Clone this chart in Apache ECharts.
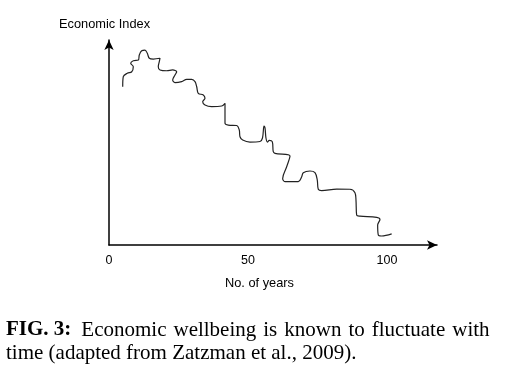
<!DOCTYPE html>
<html><head><meta charset="utf-8">
<script src="https://cdn.jsdelivr.net/npm/echarts@6/dist/echarts.min.js"></script>
<style>html,body{margin:0;padding:0;background:#fff}#c{width:510px;height:389px}</style>
</head><body><div id="c"></div>
<script>
// Years (x) and economic index (y)
const years = [4.93,5.14,6.58,8.17,8.74,7.81,8.74,10.54,10.90,11.76,12.95,13.78,14.50,15.94,18.35,18.09,17.73,18.35,20.76,22.91,24.35,23.74,22.91,23.74,26.15,27.95,29.75,30.94,31.55,32.12,33.92,34.53,33.71,34.53,36.94,40.54,41.73,41.73,41.73,42.91,45.94,46.87,47.12,48.09,50.72,54.32,55.22,55.76,56.12,56.47,57.01,57.66,58.74,59.10,59.71,65.11,63.92,62.48,63.31,68.09,69.32,69.89,72.30,74.10,74.93,75.29,76.51,81.91,86.69,88.49,88.85,89.10,90.29,96.29,97.48,96.65,96.87,98.09,101.69];
const index = [77.2,82.1,83.8,84.5,87.0,88.6,89.9,90.2,92.7,94.8,95.1,93.5,91.1,90.7,91.1,89.4,87.0,85.4,85.0,85.4,84.5,82.9,80.5,79.2,79.7,80.8,80.8,79.7,77.2,74.0,73.2,71.6,69.9,68.3,67.5,67.8,69.1,65.9,59.4,58.5,58.3,56.1,52.8,51.2,50.2,50.5,52.2,58.0,57.1,52.2,50.2,51.0,50.4,45.5,44.7,43.4,38.2,32.5,30.9,30.9,33.3,35.3,36.1,35.3,31.7,27.2,26.5,27.3,27.2,25.5,22.0,14.6,14.1,13.5,12.5,9.8,4.9,4.4,5.4];
const xTickLabels = [0, 50, 100];
const xAxisName = 'No. of years';
const yAxisName = 'Economic Index';
const captionLabel = 'FIG. 3:';
const captionLine1 = ['Economic', 'wellbeing', 'is', 'known', 'to', 'fluctuate', 'with'];
const captionLine2 = 'time (adapted from Zatzman et al., 2009).';

const chart = echarts.init(document.getElementById('c'), null, {renderer: 'canvas'});
const LH = 23;
chart.setOption({
  animation: false,
  backgroundColor: '#fff',
  grid: {left: 109, right: 73, top: 40, bottom: 144, containLabel: false},
  xAxis: {
    type: 'value', min: 0, max: 118, interval: 50,
    axisLine: {show: true, symbol: ['none', 'arrow'], symbolSize: [7, 10], lineStyle: {color: '#000', width: 1.5}},
    axisTick: {show: false}, splitLine: {show: false},
    axisLabel: {margin: 9, color: '#000', fontFamily: 'Liberation Sans', fontSize: 12.5,
      formatter: v => xTickLabels.includes(v) ? String(v) : ''}
  },
  yAxis: {
    type: 'value', min: 0, max: 100,
    axisLine: {show: true, symbol: ['none', 'arrow'], symbolSize: [7, 10], lineStyle: {color: '#000', width: 1.5}},
    axisTick: {show: false}, splitLine: {show: false}, axisLabel: {show: false}
  },
  series: [{
    type: 'line', data: years.map((x, i) => [x, index[i]]),
    smooth: 0.35, showSymbol: false,
    lineStyle: {color: '#222', width: 1.2}
  }],
  graphic: [
    {type: 'text', left: 59, top: 18, style: {text: yAxisName, fill: '#000', font: '12.8px "Liberation Sans"'}},
    {type: 'text', left: 225, top: 277, style: {text: xAxisName, fill: '#000', font: '12.8px "Liberation Sans"'}},
    {type: 'text', left: 6, top: 310, style: {
      text: '{b|' + captionLabel + '}{g| }' + captionLine1.join('{s| }') + '\n' + captionLine2,
      fill: '#000', font: '21px "Liberation Serif"', lineHeight: LH,
      rich: {
        b: {fontWeight: 'bold', fontFamily: 'Liberation Serif', fontSize: 21, fill: '#000', lineHeight: LH},
        g: {fontFamily: 'Liberation Serif', fontSize: 40, lineHeight: LH},
        s: {fontFamily: 'Liberation Serif', fontSize: 28, lineHeight: LH}
      }
    }}
  ]
});
</script></body></html>
